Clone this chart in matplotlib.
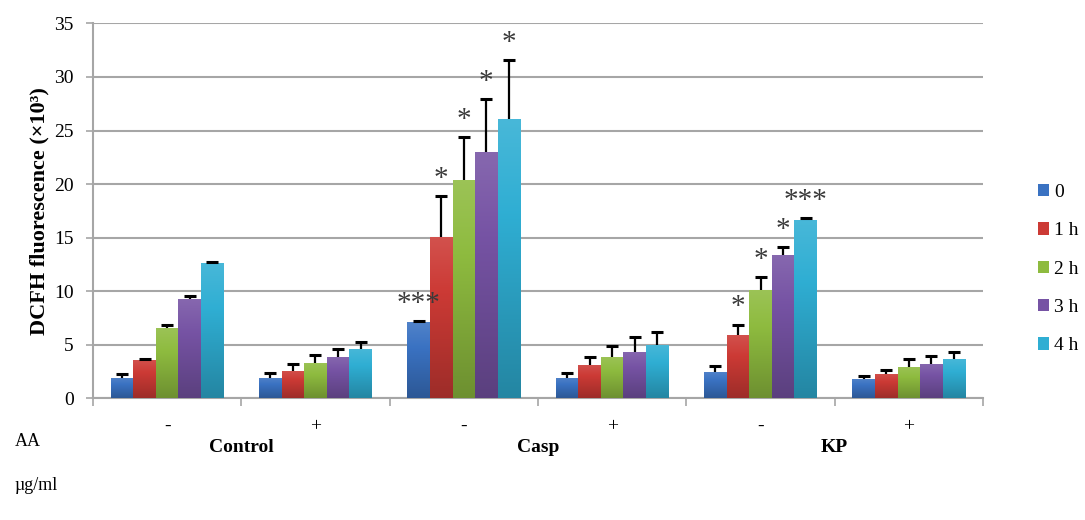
import numpy as np
import matplotlib
matplotlib.use("Agg")
import matplotlib.pyplot as plt
from matplotlib.colors import to_rgb
from matplotlib.patches import Patch

plt.rcParams['font.family'] = ['Liberation Serif', 'DejaVu Serif']

# Treatment groups, each with and without AA
groups = ["Control", "Casp", "KP"]
aa_labels = ["-", "+", "-", "+", "-", "+"]
series = ["0", "1 h", "2 h", "3 h", "4 h"]

# DCFH fluorescence (x10^3) per time point, for the six group/AA conditions
val_0h = [1.95, 1.9, 7.1, 1.9, 2.45, 1.8]
val_1h = [3.55, 2.55, 15.1, 3.1, 5.95, 2.3]
val_2h = [6.55, 3.35, 20.4, 3.85, 10.1, 2.9]
val_3h = [9.3, 3.85, 23.0, 4.35, 13.35, 3.25]
val_4h = [12.65, 4.65, 26.05, 4.95, 16.7, 3.7]

# Upper error (SD)
err_0h = [0.3, 0.45, 0.1, 0.5, 0.6, 0.3]
err_1h = [0.1, 0.65, 3.8, 0.75, 0.95, 0.4]
err_2h = [0.3, 0.75, 4.0, 1.05, 1.25, 0.75]
err_3h = [0.3, 0.75, 4.9, 1.4, 0.75, 0.75]
err_4h = [0.1, 0.6, 5.55, 1.25, 0.1, 0.65]

# Significance marks: (condition index, series index, text)
marks = [(2, 0, "***"), (2, 1, "*"), (2, 2, "*"), (2, 3, "*"), (2, 4, "*"),
         (4, 1, "*"), (4, 2, "*"), (4, 3, "*"), (4, 4, "***")]

values = [val_0h, val_1h, val_2h, val_3h, val_4h]
errors = [err_0h, err_1h, err_2h, err_3h, err_4h]
colors = ["#3A72C2", "#CC3A35", "#8EBB3F", "#7653A4", "#2FAED3"]

fig = plt.figure(figsize=(10.85, 5.2), dpi=100)
ax = fig.add_axes([0.0857, 0.2337, 0.8203, 0.7213])

n = len(aa_labels)
x = np.arange(n)
bw = 0.152
ax.set_xlim(-0.5, n - 0.5)
ax.set_ylim(0, 35)


def shade(rgb, f):
    rgb = np.array(rgb)
    if f >= 0:
        return rgb + (1 - rgb) * f
    return rgb * (1 + f)


for i, (vals, errs, c) in enumerate(zip(values, errors, colors)):
    xs = x + (i - 2) * bw
    vals = np.asarray(vals)
    errs = np.asarray(errs)
    bars = ax.bar(xs, vals, width=bw, color=c, zorder=3, linewidth=0)
    base = to_rgb(c)
    for rect in bars:
        bx, by = rect.get_x(), rect.get_y()
        w, h = rect.get_width(), rect.get_height()
        t = np.linspace(0, 1, 64)
        grad = np.stack([shade(base, 0.12 - 0.35 * tt) for tt in t])
        img = np.repeat(grad[:, None, :], 4, axis=1)
        im = ax.imshow(img, extent=(bx, bx + w, by, by + h), origin="upper",
                       aspect="auto", zorder=3.5, interpolation="bilinear")
        im.set_clip_path(rect)
    # upper-only error bars
    ax.vlines(xs, vals, vals + errs, color="black", linewidth=1.6, zorder=4)
    ax.plot(xs, vals + errs, ls="none", marker="_", ms=9, mew=2.2,
            color="black", zorder=4)

for ci, si, txt in marks:
    xc = x[ci] + (si - 2) * bw
    top = values[si][ci] + errors[si][ci]
    ax.text(xc, top + 1.6, txt, ha="center", va="center", fontsize=21,
            color="#3a3a3a", zorder=5)

ax.yaxis.grid(True, color="#A6A6A6", linewidth=1.5, zorder=0)
ax.set_axisbelow(True)
ax.set_yticks(np.arange(0, 36, 5))
ax.tick_params(axis="y", labelsize=14, length=5, color="#A6A6A6", width=1.2, pad=9)
ax.set_xticks(np.arange(-0.5, n, 1.0))
ax.set_xticklabels([])
ax.tick_params(axis="x", length=6, color="#A6A6A6", width=1.2)
ax.set_xticks(x, minor=True)
ax.set_xticklabels(aa_labels, minor=True, fontsize=14)
ax.tick_params(axis="x", which="minor", length=0, pad=14)
for s in ["top", "right"]:
    ax.spines[s].set_visible(False)
for s in ["left", "bottom"]:
    ax.spines[s].set_color("#A6A6A6")
    ax.spines[s].set_linewidth(1.5)

ax.set_ylabel("DCFH fluorescence (×10³)", fontsize=16, fontweight="bold", labelpad=3)

for gi, g in enumerate(groups):
    ax.text(2 * gi + 0.5, -4.6, g, ha="center", va="center", fontsize=14,
            fontweight="bold")
fig.text(28 / 1085, 1 - 441 / 520, "AA", ha="center", va="center", fontsize=13)
fig.text(36 / 1085, 1 - 485 / 520, "µg/ml", ha="center", va="center", fontsize=13)

handles = [Patch(facecolor=c, edgecolor="none") for c in colors]
fig.legend(handles, series, loc="upper left", bbox_to_anchor=(1030 / 1085, 1 - 176 / 520),
           frameon=False, fontsize=14, handlelength=0.6, handleheight=0.6,
           handletextpad=0.25, labelspacing=1.1, borderaxespad=0)

fig.savefig("out.png", dpi=100)
